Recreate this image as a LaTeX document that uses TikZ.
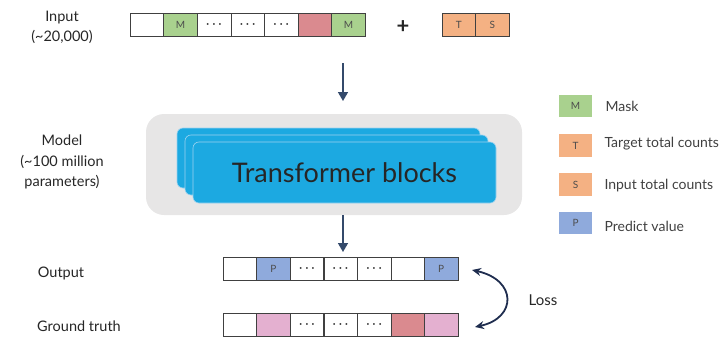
\documentclass[tikz,border=0pt]{standalone}
\usepackage{fontspec}
\setmainfont{Lato}
\usetikzlibrary{positioning,arrows.meta}

\definecolor{maskgreen}{HTML}{A9D18E}
\definecolor{truered}{HTML}{DA8A8F}
\definecolor{countorange}{HTML}{F4B183}
\definecolor{predblue}{HTML}{8FAADC}
\definecolor{truepink}{HTML}{E4B0D0}
\definecolor{modelgray}{HTML}{E7E6E6}
\definecolor{blockblue}{HTML}{1CA9E1}
\definecolor{blockedge}{HTML}{9DD3F0}
\definecolor{arrownavy}{HTML}{344A6B}
\definecolor{lossnavy}{HTML}{1F2D4F}

\newcommand{\skipdots}{{\fontsize{12}{12}\selectfont\boldmath$\cdots$}}

\tikzset{
  cell/.style={draw=black!75, line width=0.6pt, minimum width=33.6pt, minimum height=23pt,
    inner sep=0pt, font=\fontsize{10}{10}\selectfont, text=black!70},
  gapcell/.style={cell, text=black!85},
  legbox/.style={cell, draw=none, minimum width=33pt, minimum height=22.5pt},
  sidetext/.style={align=center, text=black!85, font=\fontsize{14.5}{20.5}\selectfont},
  legtext/.style={inner sep=0pt, text=black!75, font=\fontsize{14}{16}\selectfont},
  block/.style={draw=blockedge, line width=0.6pt, fill=blockblue, rounded corners=6pt,
    minimum width=303pt, minimum height=60pt},
  flow/.style={arrownavy, line width=1.6pt, -{Triangle[length=9pt,width=10pt]}}
}

\begin{document}
\begin{tikzpicture}[x=1pt,y=-1pt]
\useasboundingbox (0,0) rectangle (722,337);

% input
\node[sidetext] (inlabel) at (62,27.5) {Input\\(\textasciitilde20,000)};
\node[cell] (i1) at (146.8,24.5) {};
\node[cell, fill=maskgreen] (i2) at (180.4,24.5) {M};
\node[gapcell] (i3) at (214,24.5) {\skipdots};
\node[gapcell] (i4) at (247.6,24.5) {\skipdots};
\node[gapcell] (i5) at (281.2,24.5) {\skipdots};
\node[cell, fill=truered] (i6) at (314.8,24.5) {};
\node[cell, fill=maskgreen] (i7) at (348.4,24.5) {M};
\node[font=\fontsize{22}{22}\selectfont\bfseries, text=black!85] (plus) at (403,27) {+};
\node[cell, fill=countorange, minimum width=33.5pt] (t) at (458.75,24.5) {T};
\node[cell, fill=countorange, minimum width=33.5pt] (s) at (492.25,24.5) {S};

% model
\node[sidetext] (modellabel) at (62,162) {Model\\(\textasciitilde100 million\\parameters)};
\node[fill=modelgray, rounded corners=18pt, minimum width=376pt, minimum height=101pt] (model) at (334,164.5) {};
\node[block] (blockc) at (328.5,158) {};
\node[block] (blockb) at (336.5,165) {};
\node[block, minimum height=61pt, text=black!85, font=\fontsize{27}{27}\selectfont] (blocka) at (344.5,172.5) {Transformer blocks};

\coordinate (top) at (343,63);
\coordinate (topend) at (343,101);
\coordinate (midend) at (343,252);
\draw[flow] (top) -- (topend);
\draw[flow] (top |- model.south) -- (midend);

% output
\node[sidetext] (outlabel) at (61,273) {Output};
\node[cell] (o1) at (239.8,269) {};
\node[cell, fill=predblue] (o2) at (273.4,269) {P};
\node[gapcell] (o3) at (307,269) {\skipdots};
\node[gapcell] (o4) at (340.5,269) {\skipdots};
\node[gapcell] (o5) at (374.1,269) {\skipdots};
\node[cell] (o6) at (407.7,269) {};
\node[cell, fill=predblue] (o7) at (441.2,269) {P};

% ground truth
\node[sidetext] (gtlabel) at (79,326) {Ground truth};
\node[cell] (g1) at (239.8,325) {};
\node[cell, fill=truepink] (g2) at (273.4,325) {};
\node[gapcell] (g3) at (307,325) {\skipdots};
\node[gapcell] (g4) at (340.5,325) {\skipdots};
\node[gapcell] (g5) at (374.1,325) {\skipdots};
\node[cell, fill=truered] (g6) at (407.7,325) {};
\node[cell, fill=truepink] (g7) at (441.2,325) {};

% loss
\coordinate (lossa) at (472,270);
\coordinate (lossb) at (475,327);
\draw[lossnavy, line width=1.8pt, {Stealth[length=9pt,width=8pt]}-{Stealth[length=9pt,width=8pt]}]
  (lossa) .. controls (517,280) and (517,318) .. (lossb);
\node[font=\fontsize{15}{15}\selectfont, text=black!85] (loss) at (543,300) {Loss};

% legend
\node[legbox, fill=maskgreen] (legm) at (575.5,106) {M};
\node[legtext, right=13pt of legm] (legmtext) {Mask};
\node[legbox, fill=countorange] (legt) at (575.5,145.5) {T};
\node[legtext, right=12pt of legt, yshift=2pt] (legttext) {Target total counts};
\node[legbox, fill=countorange] (legs) at (575.5,184.5) {S};
\node[legtext, right=12pt of legs, yshift=-1pt] (legstext) {Input total counts};
\node[legbox, fill=predblue] (legp) at (575.5,223) {P};
\node[legtext, right=12pt of legp, yshift=-3pt] (legptext) {Predict value};

\end{tikzpicture}
\end{document}
